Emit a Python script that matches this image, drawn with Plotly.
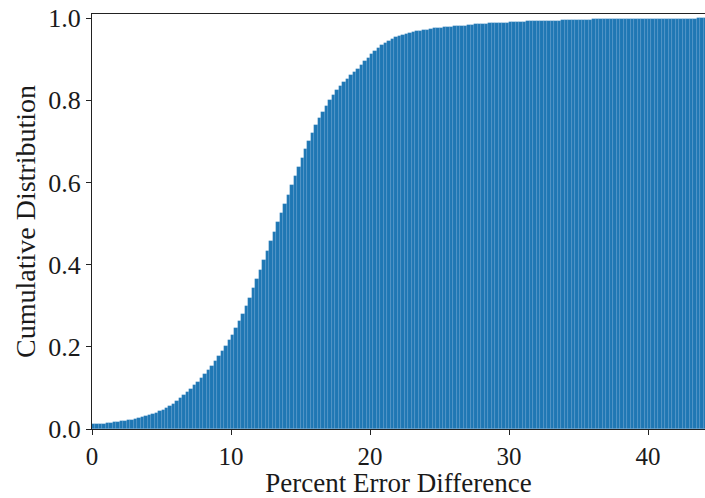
import numpy as np
import plotly.graph_objects as go

# Cumulative fraction of samples per 0.25-wide bin of percent error difference
BIN_WIDTH = 0.25
cdf = [
    0.012, 0.012, 0.013, 0.013,   # 0
    0.014, 0.015, 0.016, 0.018,   # 1
    0.019, 0.020, 0.022, 0.023,   # 2
    0.025, 0.027, 0.029, 0.031,   # 3
    0.033, 0.036, 0.039, 0.043,   # 4
    0.047, 0.052, 0.057, 0.062,   # 5
    0.068, 0.075, 0.082, 0.090,   # 6
    0.098, 0.106, 0.115, 0.124,   # 7
    0.133, 0.143, 0.154, 0.165,   # 8
    0.177, 0.189, 0.202, 0.216,   # 9
    0.230, 0.246, 0.263, 0.281,   # 10
    0.300, 0.320, 0.342, 0.365,   # 11
    0.388, 0.411, 0.434, 0.457,   # 12
    0.480, 0.503, 0.526, 0.548,   # 13
    0.570, 0.593, 0.615, 0.638,   # 14
    0.660, 0.681, 0.702, 0.721,   # 15
    0.740, 0.756, 0.772, 0.786,   # 16
    0.800, 0.812, 0.824, 0.835,   # 17
    0.845, 0.853, 0.861, 0.868,   # 18
    0.876, 0.886, 0.895, 0.904,   # 19
    0.913, 0.920, 0.927, 0.934,   # 20
    0.940, 0.945, 0.949, 0.953,   # 21
    0.956, 0.959, 0.961, 0.964,   # 22
    0.966, 0.968, 0.969, 0.971,   # 23
    0.972, 0.974, 0.975, 0.976,   # 24
    0.977, 0.978, 0.979, 0.979,   # 25
    0.980, 0.981, 0.982, 0.982,   # 26
    0.983, 0.984, 0.985, 0.985,   # 27
    0.986, 0.986, 0.987, 0.987,   # 28
    0.988, 0.988, 0.989, 0.989,   # 29
    0.990, 0.990, 0.991, 0.991,   # 30
    0.991, 0.992, 0.992, 0.992,   # 31
    0.993, 0.993, 0.993, 0.994,   # 32
    0.994, 0.994, 0.994, 0.995,   # 33
    0.995, 0.995, 0.995, 0.996,   # 34
    0.996, 0.996, 0.996, 0.996,   # 35
    0.997, 0.997, 0.997, 0.997,   # 36
    0.997, 0.997, 0.997, 0.998,   # 37
    0.998, 0.998, 0.998, 0.998,   # 38
    0.998, 0.998, 0.998, 0.998,   # 39
    0.998, 0.998, 0.999, 0.999,   # 40
    0.999, 0.999, 0.999, 0.999,   # 41
    0.999, 0.999, 0.999, 0.999,   # 42
    0.999, 0.999, 1.000, 1.000,   # 43
    1.000,                        # 44
]

x_ticks = [0, 10, 20, 30, 40]
y_ticks = [0.0, 0.2, 0.4, 0.6, 0.8, 1.0]
y_tick_text = ["0.0", "0.2", "0.4", "0.6", "0.8", "1.0"]

bin_centers = np.arange(len(cdf)) * BIN_WIDTH + BIN_WIDTH / 2

FONT = "Liberation Serif"
AXIS_COLOR = "#222222"

fig = go.Figure(
    go.Bar(
        x=bin_centers,
        y=cdf,
        width=BIN_WIDTH,
        marker=dict(
            color="#1f77b4",
            line=dict(color="rgba(110,165,215,0.4)", width=0.5),
        ),
        hoverinfo="x+y",
    )
)

fig.update_layout(
    width=705,
    height=498,
    margin=dict(l=92, r=0, t=14, b=69),
    paper_bgcolor="white",
    plot_bgcolor="white",
    bargap=0,
    showlegend=False,
    font=dict(family=FONT, size=25, color="#1a1a1a"),
)

fig.update_xaxes(
    range=[0, 44.1],
    tickvals=x_ticks,
    ticks="outside",
    ticklen=5,
    tickwidth=1.2,
    tickcolor=AXIS_COLOR,
    showline=True,
    linecolor=AXIS_COLOR,
    linewidth=1.3,
    mirror=True,
    showgrid=False,
    zeroline=False,
    tickfont=dict(size=25),
    title=dict(text="Percent Error Difference", font=dict(size=27), standoff=5),
)

fig.update_yaxes(
    range=[0, 1.01],
    tickvals=y_ticks,
    ticktext=y_tick_text,
    ticks="outside",
    ticklen=5,
    tickwidth=1.2,
    tickcolor=AXIS_COLOR,
    showline=True,
    linecolor=AXIS_COLOR,
    linewidth=1.3,
    showgrid=False,
    zeroline=False,
    tickfont=dict(size=26),
    title=dict(text="Cumulative Distribution", font=dict(size=28), standoff=4),
)

fig.write_html("out.html")
